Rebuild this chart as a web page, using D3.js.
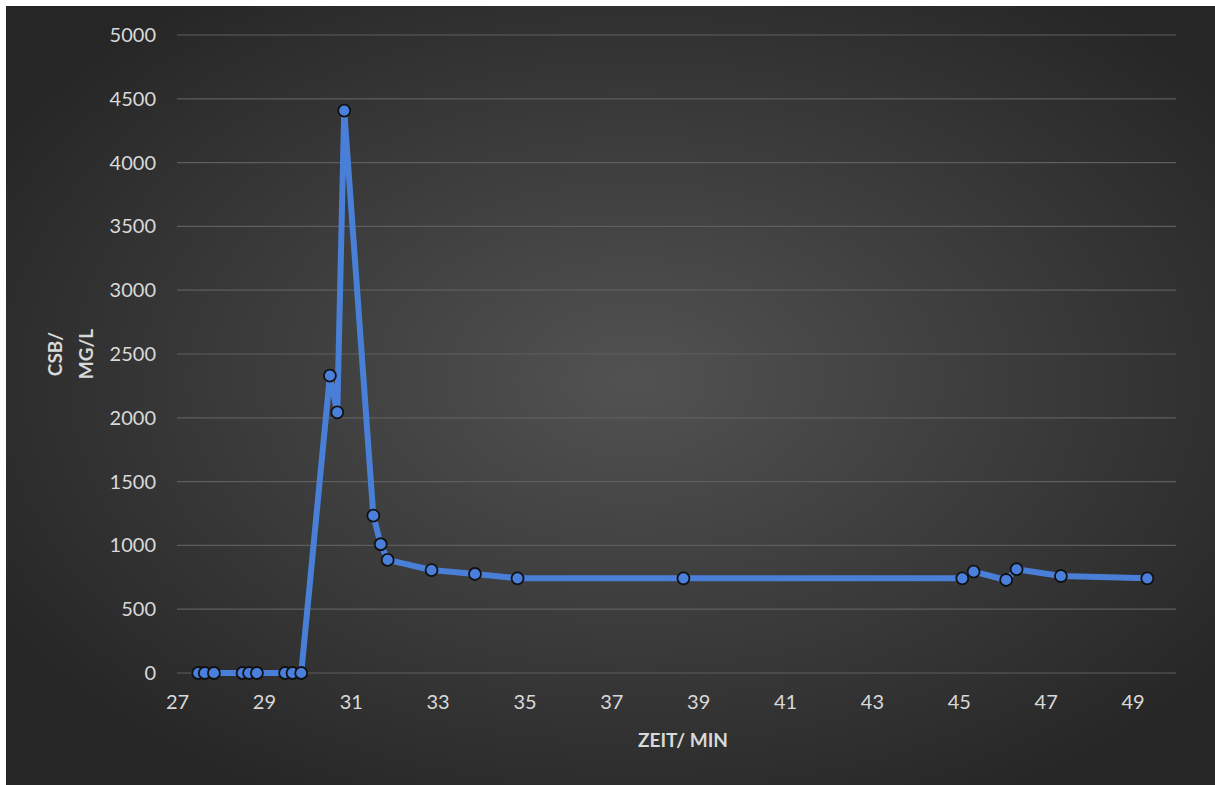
<!DOCTYPE html>
<html>
<head>
<meta charset="utf-8">
<script src="https://cdn.jsdelivr.net/npm/d3@7"></script>
<style>
  html, body { margin: 0; padding: 0; background: #fff; }
  svg { display: block; }
</style>
</head>
<body>
<svg id="chart" width="1215" height="785"></svg>
<script>
// Zeit in Minuten
const zeit = [27.49, 27.64, 27.85, 28.51, 28.66, 28.84, 29.49, 29.66, 29.86,
  30.52, 30.69, 30.85, 31.52, 31.69, 31.85, 32.86, 33.86, 34.84, 38.66,
  45.08, 45.34, 46.09, 46.33, 47.35, 49.34]
// CSB in mg/L
const csb = [0, 0, 0, 0, 0, 0, 0, 0, 0,
  2330, 2043, 4407, 1233, 1009, 886, 807, 776, 742, 742,
  742, 794, 729, 813, 760, 742]
const xTicks = [27, 29, 31, 33, 35, 37, 39, 41, 43, 45, 47, 49]
const yTicks = [0, 500, 1000, 1500, 2000, 2500, 3000, 3500, 4000, 4500, 5000]

const width = 1215
const height = 785
const lineColor = '#4a7fd8'
const textColor = '#d9d9d9'
const font = 'Lato, "Open Sans", sans-serif'

const svg = d3.select('#chart')

// hintergrund mit verlauf
const defs = svg.append('defs')
const grad = defs.append('radialGradient')
  .attr('id', 'bg')
  .attr('cx', '52%').attr('cy', '48%').attr('r', '62%')
grad.append('stop').attr('offset', '0%').attr('stop-color', '#525252')
grad.append('stop').attr('offset', '100%').attr('stop-color', '#262626')

svg.append('rect')
  .attr('x', 6).attr('y', 6)
  .attr('width', width - 6).attr('height', height - 6)
  .attr('fill', 'url(#bg)')

const x = d3.scaleLinear().domain([27, 50]).range([177, 1176])
const y = d3.scaleLinear().domain([0, 5000]).range([673, 35])

// gitternetz
svg.append('g')
  .selectAll('line')
  .data(yTicks)
  .join('line')
  .attr('x1', x(27)).attr('x2', x(50))
  .attr('y1', d => y(d)).attr('y2', d => y(d))
  .attr('stroke', '#5e5e5e')
  .attr('stroke-width', 1.2)

// y achse
const yAxis = svg.append('g')
  .attr('transform', `translate(${x(27) - 21},0)`)
  .call(d3.axisLeft(y).tickValues(yTicks).tickFormat(d3.format('d')).tickSize(0).tickPadding(0))
yAxis.select('.domain').remove()
yAxis.selectAll('text')
  .attr('fill', textColor)
  .attr('font-family', font)
  .attr('font-size', 20)

// x achse
const xAxis = svg.append('g')
  .attr('transform', `translate(0,${y(0) + 22})`)
  .call(d3.axisBottom(x).tickValues(xTicks).tickFormat(d3.format('d')).tickSize(0).tickPadding(0))
xAxis.select('.domain').remove()
xAxis.selectAll('text')
  .attr('fill', textColor)
  .attr('font-family', font)
  .attr('font-size', 20)

// achsentitel
svg.append('text')
  .attr('x', 683).attr('y', 747)
  .attr('text-anchor', 'middle')
  .attr('fill', textColor)
  .attr('font-family', font)
  .attr('font-weight', 'bold')
  .attr('font-size', 19)
  .text('ZEIT/ MIN')

const yTitle = svg.append('g')
  .attr('transform', 'translate(0,354) rotate(-90)')
yTitle.selectAll('text')
  .data(['CSB/', 'MG/L'])
  .join('text')
  .attr('x', 0)
  .attr('y', (d, i) => i === 0 ? 62 : 93)
  .attr('text-anchor', 'middle')
  .attr('fill', textColor)
  .attr('font-family', font)
  .attr('font-weight', 'bold')
  .attr('font-size', 19)
  .text(d => d)

// linie
const points = zeit.map((t, i) => [t, csb[i]])

const line = d3.line()
  .x(d => x(d[0]))
  .y(d => y(d[1]))

svg.append('path')
  .datum(points)
  .attr('d', line)
  .attr('fill', 'none')
  .attr('stroke', lineColor)
  .attr('stroke-width', 6)
  .attr('stroke-linejoin', 'round')

svg.append('g')
  .selectAll('circle')
  .data(points)
  .join('circle')
  .attr('cx', d => x(d[0]))
  .attr('cy', d => y(d[1]))
  .attr('r', 6)
  .attr('fill', '#4a80dc')
  .attr('stroke', '#111')
  .attr('stroke-width', 1.8)
</script>
</body>
</html>
